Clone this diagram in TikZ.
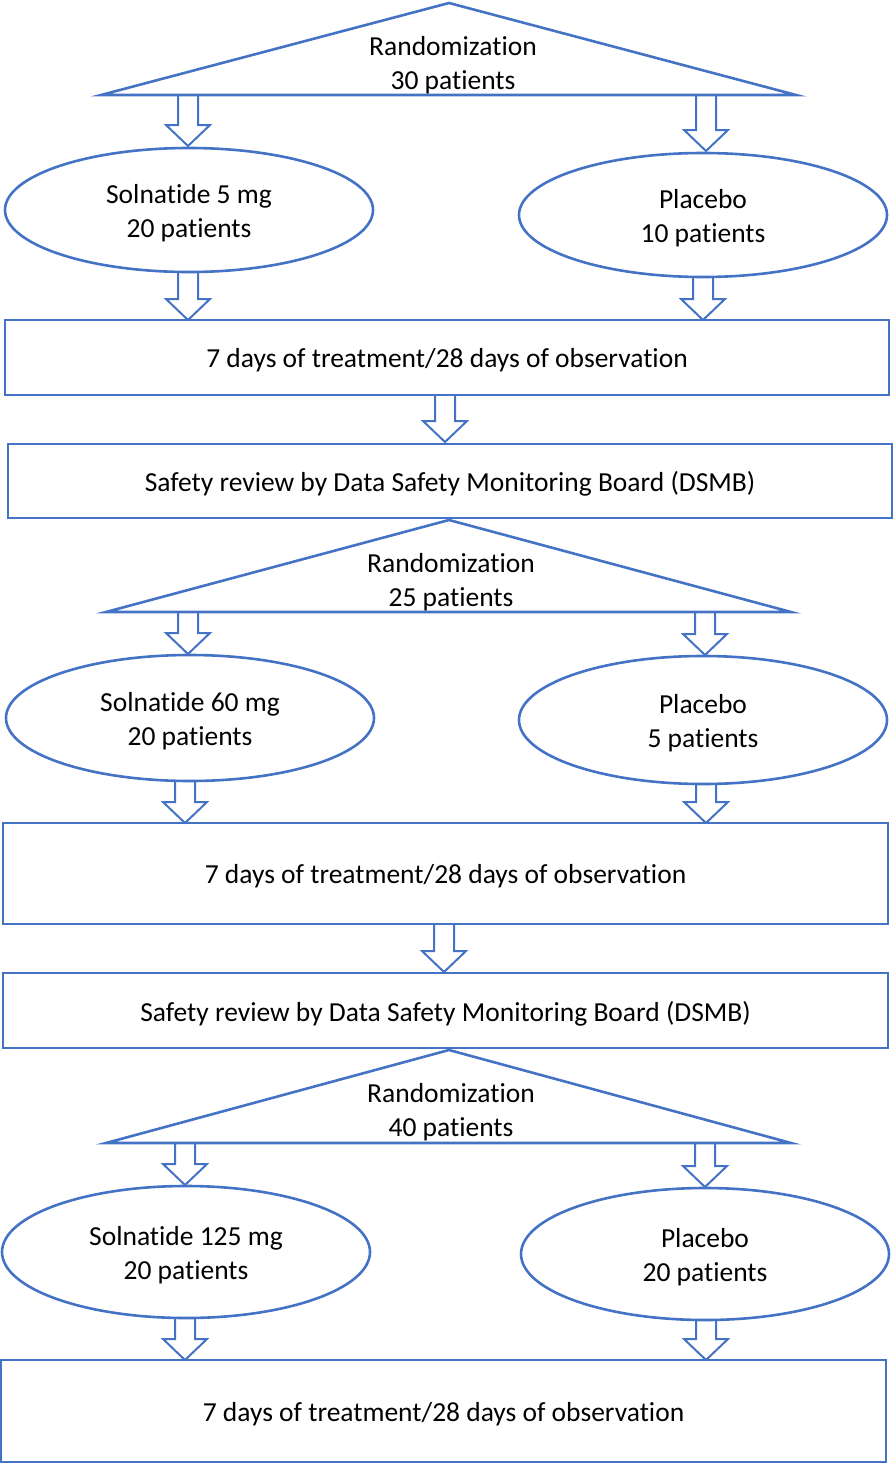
\documentclass[tikz,border=0pt]{standalone}
\usepackage{fontspec}
\setmainfont{Carlito}[RawFeature=-liga]
\usetikzlibrary{shapes.geometric,calc}
\definecolor{bl}{HTML}{4472C4}
\newcommand{\fsz}{\fontsize{27.5}{33.5}\selectfont}
\tikzset{
  ln/.style={draw=bl,line width=2.6pt},
  txt/.style={align=center,font=\fsz,inner sep=0pt,yshift=-3pt},
  ell/.style={ln,ellipse,minimum width=368pt,minimum height=124pt,inner sep=0pt},
  box/.style={ln,rectangle,inner sep=0pt},
  barr/.style={draw=bl,line width=2pt,line join=miter}
}
\newcommand{\blockarr}[2]{%
  \draw[barr] let \p1=#1, \p2=#2 in
   (\x1-10pt,\y1) -- (\x1-10pt,\y2+21pt) -- (\x1-22pt,\y2+21pt) -- (\x1,\y2)
   -- (\x1+22pt,\y2+21pt) -- (\x1+10pt,\y2+21pt) -- (\x1+10pt,\y1);}
\begin{document}
\begin{tikzpicture}[x=1pt,y=-1pt]
\useasboundingbox (0,0) rectangle (894,1464);
% ---- Stage 1
\coordinate (t1a) at (449,3); \coordinate (t1l) at (101,95); \coordinate (t1r) at (796,95);
\draw[ln] (t1l) -- (t1a) -- (t1r) -- cycle;
\node[txt] (t1) at (453,62) {Randomization\\30 patients};
\node[ell] (e1) at (189,210) {};
\node[txt] (e1t) at (e1.center) {Solnatide 5 mg\\20 patients};
\node[ell] (e2) at (703,215) {};
\node[txt] (e2t) at (e2.center) {Placebo\\10 patients};
\node[box,minimum width=884pt,minimum height=75pt] (b1) at (447,357.5) {};
\node[txt] (b1t) at (b1.center) {7 days of treatment/28 days of observation};
\node[box,minimum width=884pt,minimum height=74pt] (b2) at (450,481) {};
\node[txt] (b2t) at (b2.center) {Safety review by Data Safety Monitoring Board (DSMB)};
\blockarr{(188,95)}{(188,146)}
\blockarr{(706,95)}{(706,151)}
\blockarr{(188,272)}{(188,320)}
\blockarr{(703,277)}{(703,320)}
\blockarr{(445,395)}{(445,442)}
% ---- Stage 2
\coordinate (t2a) at (449,520); \coordinate (t2l) at (106,612); \coordinate (t2r) at (791,612);
\draw[ln] (t2l) -- (t2a) -- (t2r) -- cycle;
\node[txt] (t2) at (451,579) {Randomization\\25 patients};
\node[ell,minimum height=126pt] (e3) at (190,718) {};
\node[txt] (e3t) at (e3.center) {Solnatide 60 mg\\20 patients};
\node[ell,minimum height=128pt] (e4) at (703,720) {};
\node[txt] (e4t) at (e4.center) {Placebo\\5 patients};
\node[box,minimum width=885pt,minimum height=101pt] (b3) at (445.5,873.5) {};
\node[txt] (b3t) at (b3.center) {7 days of treatment/28 days of observation};
\node[box,minimum width=885pt,minimum height=75pt] (b4) at (445.5,1010.5) {};
\node[txt] (b4t) at (b4.center) {Safety review by Data Safety Monitoring Board (DSMB)};
\blockarr{(188,612)}{(188,654)}
\blockarr{(705,612)}{(705,655)}
\blockarr{(185,781)}{(185,823)}
\blockarr{(706,784)}{(706,823)}
\blockarr{(444,924)}{(444,972)}
% ---- Stage 3
\coordinate (t3a) at (449,1050); \coordinate (t3l) at (106,1143); \coordinate (t3r) at (791,1143);
\draw[ln] (t3l) -- (t3a) -- (t3r) -- cycle;
\node[txt] (t3) at (451,1109) {Randomization\\40 patients};
\node[ell,minimum height=132pt] (e5) at (186,1252) {};
\node[txt] (e5t) at (e5.center) {Solnatide 125 mg\\20 patients};
\node[ell,minimum height=132pt] (e6) at (705,1254) {};
\node[txt] (e6t) at (e6.center) {Placebo\\20 patients};
\node[box,minimum width=885pt,minimum height=102pt] (b5) at (443.5,1411) {};
\node[txt] (b5t) at (b5.center) {7 days of treatment/28 days of observation};
\blockarr{(185,1143)}{(185,1185)}
\blockarr{(705,1143)}{(705,1187)}
\blockarr{(185,1318)}{(185,1360)}
\blockarr{(706,1320)}{(706,1360)}
\end{tikzpicture}
\end{document}
